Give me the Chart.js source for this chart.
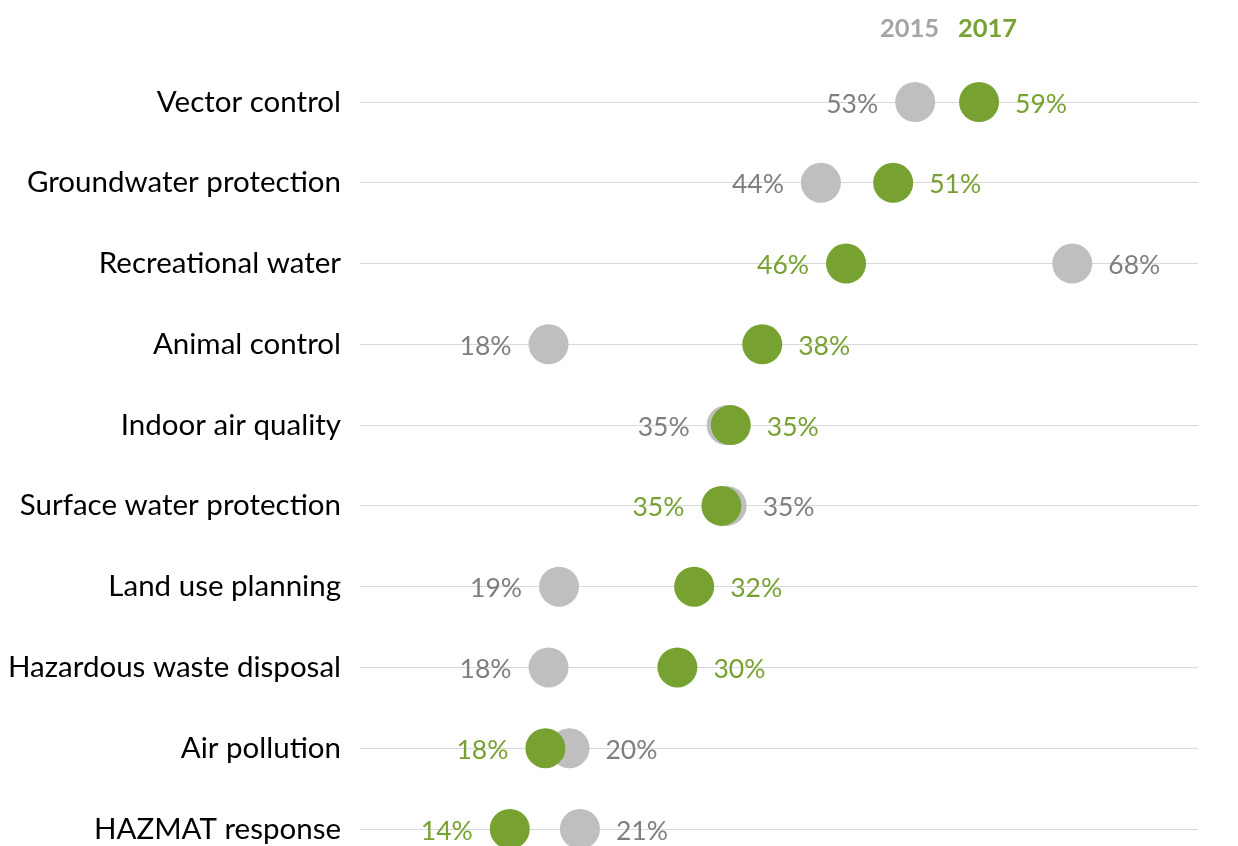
<!DOCTYPE html>
<html>
<head>
<meta charset="utf-8">
<script src="https://cdn.jsdelivr.net/npm/chart.js@4/dist/chart.umd.min.js"></script>
<style>
  html, body { margin: 0; padding: 0; background: #ffffff; }
  #wrap { width: 1238px; height: 846px; position: relative; }
</style>
</head>
<body>
<div id="wrap"><canvas id="c"></canvas></div>
<script>
// ---- Data ----
const categories = [
  "Vector control",
  "Groundwater protection",
  "Recreational water",
  "Animal control",
  "Indoor air quality",
  "Surface water protection",
  "Land use planning",
  "Hazardous waste disposal",
  "Air pollution",
  "HAZMAT response"
];
const values2015 = [53.0, 44.0, 68.0, 18.0, 35.0, 35.0, 19.0, 18.0, 20.0, 21.0];
const values2017 = [59.1, 50.9, 46.4, 38.4, 35.4, 34.5, 31.9, 30.3, 17.7, 14.3];
const seriesNames = ["2015", "2017"];

// ---- Styles ----
const GRAY_DOT = "#BFBFBF";
const GRAY_TEXT = "#7F7F7F";
const GRAY_LEGEND = "#A5A5A5";
const GREEN = "#77A232";
const FONT = "Lato, 'Open Sans', 'Liberation Sans', sans-serif";

const dataLabelPlugin = {
  id: "dataLabels",
  afterDatasetsDraw(chart) {
    const ctx = chart.ctx;
    const m17 = chart.getDatasetMeta(0);
    const m15 = chart.getDatasetMeta(1);
    ctx.save();
    ctx.font = "26.5px " + FONT;
    ctx.textBaseline = "middle";
    for (let i = 0; i < categories.length; i++) {
      const p17 = m17.data[i], p15 = m15.data[i];
      const greenRight = values2017[i] >= values2015[i];
      const t17 = Math.round(values2017[i]) + "%";
      const t15 = Math.round(values2015[i]) + "%";
      ctx.fillStyle = GREEN;
      ctx.textAlign = greenRight ? "left" : "right";
      ctx.fillText(t17, p17.x + (greenRight ? 36 : -37), p17.y + 2);
      ctx.fillStyle = GRAY_TEXT;
      ctx.textAlign = greenRight ? "right" : "left";
      ctx.fillText(t15, p15.x + (greenRight ? -37 : 36), p15.y + 2);
    }
    ctx.restore();
  }
};

const legendPlugin = {
  id: "textLegend",
  afterDraw(chart) {
    const ctx = chart.ctx;
    ctx.save();
    ctx.font = "bold 25.5px " + FONT;
    ctx.textBaseline = "middle";
    ctx.textAlign = "left";
    ctx.fillStyle = GRAY_LEGEND;
    ctx.fillText(seriesNames[0], 880, 29);
    ctx.fillStyle = GREEN;
    ctx.fillText(seriesNames[1], 958, 29);
    ctx.restore();
  }
};

new Chart(document.getElementById("c"), {
  type: "line",
  data: {
    labels: categories,
    datasets: [
      {
        label: seriesNames[1],
        data: values2017,
        showLine: false,
        pointRadius: 20,
        pointHoverRadius: 20,
        pointBorderWidth: 0,
        pointBackgroundColor: GREEN,
        backgroundColor: GREEN,
        borderColor: GREEN,
        clip: false
      },
      {
        label: seriesNames[0],
        data: values2015,
        showLine: false,
        pointRadius: 20,
        pointHoverRadius: 20,
        pointBorderWidth: 0,
        pointBackgroundColor: GRAY_DOT,
        backgroundColor: GRAY_DOT,
        borderColor: GRAY_DOT,
        clip: false
      }
    ]
  },
  options: {
    indexAxis: "y",
    responsive: true,
    maintainAspectRatio: false,
    animation: false,
    layout: { autoPadding: false, padding: { top: 102, bottom: 17, right: 40, left: 0 } },
    plugins: {
      legend: { display: false },
      tooltip: { enabled: false }
    },
    scales: {
      x: {
        type: "linear",
        min: 0,
        max: 80,
        display: false
      },
      y: {
        type: "category",
        offset: false,
        border: { display: false },
        grid: { color: "#D9D9D9", lineWidth: 1, drawTicks: false },
        ticks: {
          color: "#000000",
          font: { family: FONT, size: 29.5 },
          padding: 19
        },
        afterFit(scale) {
          scale.width = 360;
          scale.paddingTop = 0;
          scale.paddingBottom = 0;
        }
      }
    }
  },
  plugins: [dataLabelPlugin, legendPlugin]
});
</script>
</body>
</html>
